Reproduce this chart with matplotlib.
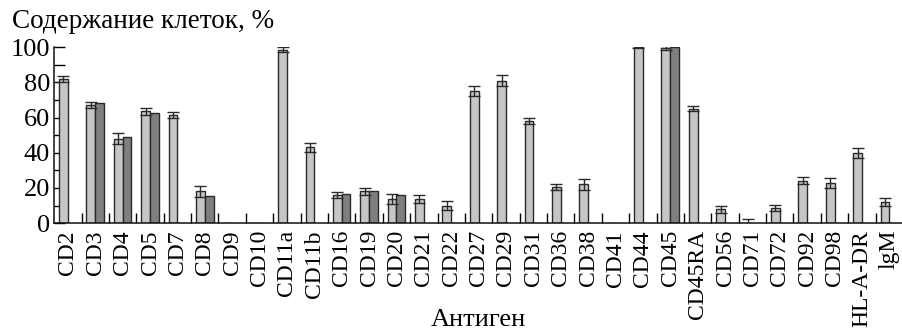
import numpy as np
from matplotlib import pyplot as plt

# antigens on the x axis
antigens = ["CD2", "CD3", "CD4", "CD5", "CD7", "CD8", "CD9", "CD10", "CD11a", "CD11b",
            "CD16", "CD19", "CD20", "CD21", "CD22", "CD27", "CD29", "CD31", "CD36", "CD38",
            "CD41", "CD44", "CD45", "CD45RA", "CD56", "CD71", "CD72", "CD92", "CD98",
            "HL-A-DR", "lgM"]

# light bars (first series) with errors
light_vals = [82, 67, 48, 63.5, 61.5, 18, 0, 0, 98.5, 43,
              16, 18, 13.5, 13.5, 10, 75, 81, 58, 20.5, 22,
              0, 100, 99.5, 65, 8, 0, 8.5, 24, 23, 40, 12]
light_err = [1.8, 1.8, 3, 2, 1.5, 3, 0, 0, 1.5, 2.5,
             1.5, 1.8, 2.8, 2.2, 2.5, 2.8, 3, 1.5, 1.8, 3,
             0, 0.6, 1.2, 1.5, 2, 2.2, 1.8, 2, 2.8, 2.8, 2]

# dark bars (second series), None = not measured
dark_vals = [None, 68, 49, 62.5, None, 15.5, None, None, None, None,
             16.5, 18.5, 16, None, None, None, None, None, None, None,
             None, None, 100, None, None, None, None, None, None, None, None]

light_color = "#c6c6c6"
dark_color = "#7f7f7f"
edge = "#2a2a2a"
fnt = "Liberation Serif"

def main():
    plt.rcParams['font.family'] = [fnt, 'DejaVu Serif']
    fig = plt.figure(figsize=(9.03, 3.32), dpi=100)
    ax = fig.add_axes([0.06, 0.328, 0.94, 0.53])

    x = np.arange(len(antigens))
    w = 0.32

    # light bars, CD71 is zero but has an error bar
    lv = np.array(light_vals, dtype=float)
    le = np.array(light_err, dtype=float)
    ax.bar(x - w / 2, lv, width=w, color=light_color, edgecolor=edge, linewidth=1.0, zorder=2)
    has_err = le > 0
    ax.errorbar(x[has_err] - w / 2, lv[has_err], yerr=le[has_err], fmt="none",
                ecolor=edge, elinewidth=1.0, capsize=4, capthick=1.0, zorder=3)

    dx = [i for i, v in enumerate(dark_vals) if v is not None]
    dv = [dark_vals[i] for i in dx]
    ax.bar(np.array(dx) + w / 2, dv, width=w, color=dark_color, edgecolor=edge, linewidth=1.0, zorder=2)

    ax.set_xlim(-0.5, len(antigens) - 0.5)
    ax.set_ylim(0, 100)

    ax.spines["top"].set_visible(False)
    ax.spines["right"].set_visible(False)
    for s in ["left", "bottom"]:
        ax.spines[s].set_linewidth(1.1)
        ax.spines[s].set_color("#111111")

    # category labels as major ticks (no tick mark), boundaries as minor ticks
    ax.set_xticks(x)
    ax.set_xticklabels(antigens, rotation=90, fontsize=17, fontfamily=fnt)
    ax.set_xticks(np.arange(len(antigens)) + 0.5, minor=True)
    ax.tick_params(axis="x", which="major", length=0, pad=5)
    ax.tick_params(axis="x", which="minor", direction="in", length=7, width=1.0)

    ax.set_yticks([0, 20, 40, 60, 80, 100])
    ax.set_yticks(np.arange(10, 100, 20), minor=True)
    ax.tick_params(axis="y", which="major", direction="in", length=8, width=1.0,
                   labelsize=19, pad=3)
    ax.tick_params(axis="y", which="minor", direction="in", length=8, width=1.0)
    for lab in ax.get_yticklabels():
        lab.set_fontfamily(fnt)

    fig.text(0.013, 1 - 28 / 332, "Содержание клеток, %", fontsize=19.5, fontfamily=fnt,
             ha="left", va="baseline")
    fig.text(0.53, 1 - 331 / 332, "Антиген", fontsize=19, fontfamily=fnt,
             ha="center", va="bottom")

    fig.savefig("out.png", dpi=100)

if __name__ == '__main__':
    main()
